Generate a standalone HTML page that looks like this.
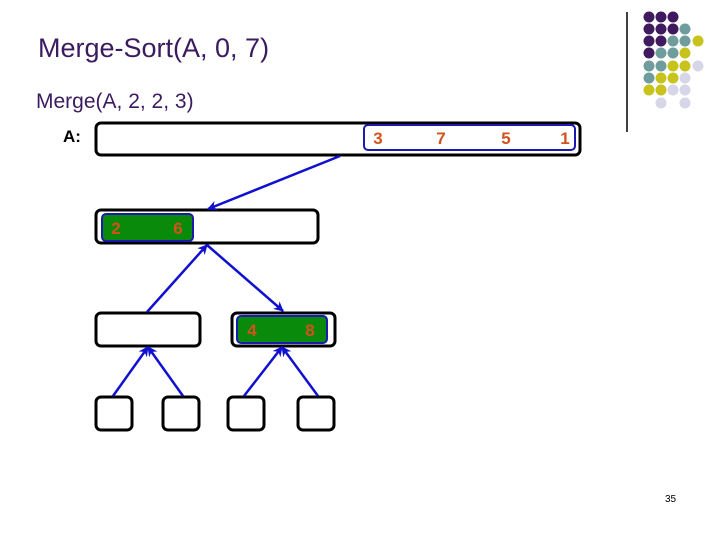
<!DOCTYPE html>
<html><head><style>
body{margin:0;width:720px;height:540px;background:#fff;overflow:hidden;position:relative;font-family:"Liberation Sans",sans-serif}
.t{position:absolute;white-space:nowrap}
</style></head><body>
<div class="t" style="left:38px;top:33px;font-size:27px;color:#3b1b5f">Merge-Sort(A, 0, 7)</div>
<div class="t" style="left:36px;top:90px;font-size:21px;color:#3b1b5f">Merge(A, 2, 2, 3)</div>
<div class="t" style="left:63px;top:127px;font-size:17px;font-weight:bold;color:#000">A:</div>
<div class="t" style="left:665px;top:494px;font-size:10px;color:#000">35</div>
<svg width="720" height="540" style="position:absolute;left:0;top:0">
<defs><marker id="a" markerWidth="10" markerHeight="10" refX="9" refY="5" orient="auto" markerUnits="userSpaceOnUse"><path d="M0,0 L10,5 L0,10 L3,5 z" fill="#1010d0"/></marker></defs>
<line x1="627" y1="12" x2="627" y2="132" stroke="#000" stroke-width="1.5"/>
<g>
<circle cx="649" cy="17" r="5.5" fill="#3f1a5e"/><circle cx="661" cy="17" r="5.5" fill="#3f1a5e"/><circle cx="673" cy="17" r="5.5" fill="#3f1a5e"/>
<circle cx="649" cy="29" r="5.5" fill="#3f1a5e"/><circle cx="661" cy="29" r="5.5" fill="#3f1a5e"/><circle cx="673" cy="29" r="5.5" fill="#3f1a5e"/><circle cx="685" cy="29" r="5.5" fill="#6f9c9c"/>
<circle cx="649" cy="41" r="5.5" fill="#3f1a5e"/><circle cx="661" cy="41" r="5.5" fill="#3f1a5e"/><circle cx="673" cy="41" r="5.5" fill="#6f9c9c"/><circle cx="685" cy="41" r="5.5" fill="#6f9c9c"/><circle cx="698" cy="41" r="5.5" fill="#c8c31c"/>
<circle cx="649" cy="53" r="5.5" fill="#3f1a5e"/><circle cx="661" cy="53" r="5.5" fill="#6f9c9c"/><circle cx="673" cy="53" r="5.5" fill="#6f9c9c"/><circle cx="685" cy="53" r="5.5" fill="#c8c31c"/>
<circle cx="649" cy="66" r="5.5" fill="#6f9c9c"/><circle cx="661" cy="66" r="5.5" fill="#6f9c9c"/><circle cx="673" cy="66" r="5.5" fill="#c8c31c"/><circle cx="685" cy="66" r="5.5" fill="#c8c31c"/><circle cx="698" cy="66" r="5.5" fill="#d6d6e8"/>
<circle cx="649" cy="78" r="5.5" fill="#6f9c9c"/><circle cx="661" cy="78" r="5.5" fill="#c8c31c"/><circle cx="673" cy="78" r="5.5" fill="#c8c31c"/><circle cx="685" cy="78" r="5.5" fill="#d6d6e8"/>
<circle cx="649" cy="90" r="5.5" fill="#c8c31c"/><circle cx="661" cy="90" r="5.5" fill="#c8c31c"/><circle cx="673" cy="90" r="5.5" fill="#d6d6e8"/><circle cx="685" cy="90" r="5.5" fill="#d6d6e8"/>
<circle cx="661" cy="103" r="5.5" fill="#d6d6e8"/><circle cx="685" cy="103" r="5.5" fill="#d6d6e8"/>
</g>
<g fill="#fff" stroke="#000" stroke-width="3">
<rect x="96" y="123" width="484" height="32" rx="5"/>
<rect x="96" y="210" width="222" height="33" rx="5"/>
<rect x="96" y="313" width="104" height="33" rx="5"/>
<rect x="232" y="313" width="103" height="33" rx="5"/>
<rect x="96" y="397" width="36" height="33" rx="5"/>
<rect x="163" y="397" width="36" height="33" rx="5"/>
<rect x="228" y="397" width="36" height="33" rx="5"/>
<rect x="298" y="397" width="36" height="33" rx="5"/>
</g>
<rect x="364" y="125" width="211" height="25" rx="4" fill="none" stroke="#1a1ab0" stroke-width="2"/>
<rect x="102" y="214" width="91" height="27" rx="4" fill="#0a8a0a" stroke="#1a1ab0" stroke-width="2"/>
<rect x="237" y="316" width="90" height="27" rx="4" fill="#0a8a0a" stroke="#1a1ab0" stroke-width="2"/>
<g stroke="#1010d0" stroke-width="2.5" marker-end="url(#a)">
<line x1="340" y1="156" x2="208" y2="209"/>
<line x1="147" y1="312" x2="207" y2="245"/>
<line x1="207" y1="245" x2="283" y2="311"/>
<line x1="113" y1="396" x2="148" y2="347"/>
<line x1="183" y1="396" x2="148" y2="347"/>
<line x1="244" y1="396" x2="282" y2="347"/>
<line x1="318" y1="396" x2="282" y2="347"/>
</g>
<g font-family="Liberation Sans,sans-serif" font-weight="bold" font-size="17" fill="#d2521e" text-anchor="middle">
<text x="378" y="144">3</text><text x="441" y="144">7</text><text x="506" y="144">5</text><text x="565" y="144">1</text>
<text x="116" y="234">2</text><text x="178" y="234">6</text>
<text x="252" y="336">4</text><text x="310" y="336">8</text>
</g>
</svg>
</body></html>
